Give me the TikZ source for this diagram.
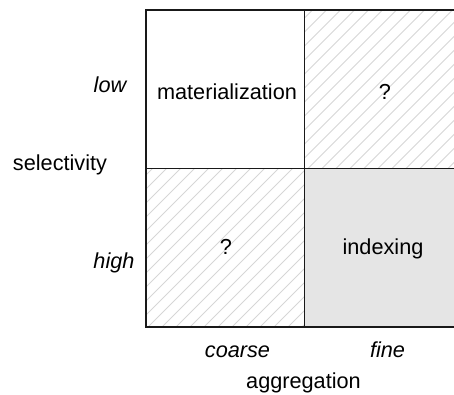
\documentclass[tikz,border=0pt]{standalone}
\usepackage{fontspec}
\setmainfont{Liberation Sans}
\begin{document}
\begin{tikzpicture}[x=1bp,y=-1bp,
  lbl/.style={inner sep=0pt,anchor=base,font=\fontsize{21.7bp}{26bp}\selectfont},
  ilbl/.style={lbl,font=\fontsize{21.7bp}{26bp}\selectfont\itshape},
  hatchline/.style={draw=black!16,line width=1bp},
  grid/.style={draw=black!90,line width=1.3bp}]
\useasboundingbox (0,0) rectangle (454,394);

% shaded cell: fine aggregation, high selectivity
\fill[black!10] (304.5,168.5) rectangle (463,327);

% hatched cells
\begin{scope}
  \clip (304.5,10) rectangle (463,168.5);
  \foreach \x in {140,154,...,470}
    \draw[hatchline] (\x,168.5) -- ++(158.5,-158.5);
\end{scope}
\begin{scope}
  \clip (146,168.5) rectangle (304.5,327);
  \foreach \x in {-20,-6,...,310}
    \draw[hatchline] (\x,327) -- ++(158.5,-158.5);
\end{scope}

% grid
\draw[grid] (146,10) rectangle (463,327);
\draw[grid] (304.5,10) -- (304.5,327);
\draw[grid] (146,168.5) -- (463,168.5);

% cell texts
\node[lbl] (mat) at (227,99) {materialization};
\node[lbl] (q1) at (385,99) {?};
\node[lbl] (q2) at (226,254) {?};
\node[lbl] (idx) at (383,254) {indexing};

% axis texts
\node[ilbl] (low) at (110,92) {low};
\node[ilbl] (high) at (114,268) {high};
\node[lbl] (sel) at (60,170) {selectivity};
\node[ilbl] (coarse) at (237.5,357) {coarse};
\node[ilbl] (fine) at (387.5,357) {fine};
\node[lbl] (agg) at (303.5,388) {aggregation};
\end{tikzpicture}
\end{document}
